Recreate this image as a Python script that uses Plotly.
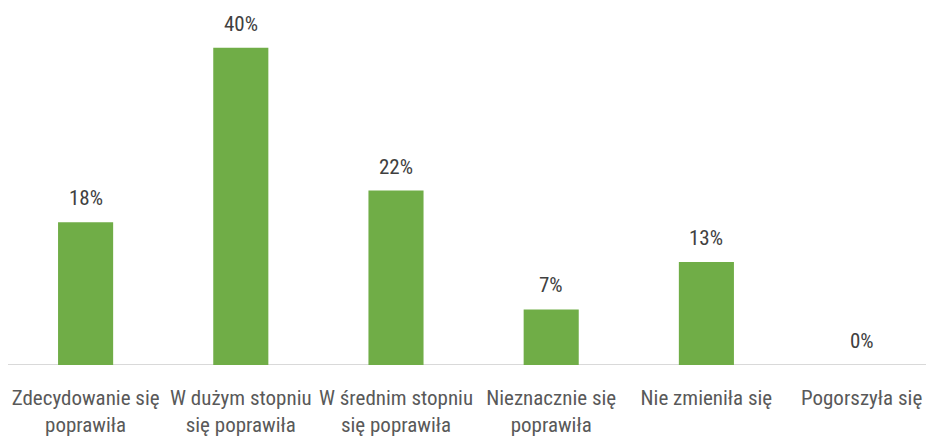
import plotly.graph_objects as go

categories = [
    "Zdecydowanie się<br>poprawiła",
    "W dużym stopniu<br>się poprawiła",
    "W średnim stopniu<br>się poprawiła",
    "Nieznacznie się<br>poprawiła",
    "Nie zmieniła się",
    "Pogorszyła się",
]
values = [18, 40, 22, 7, 13, 0]
labels = [f"{v}%" for v in values]

FONT = "Roboto Condensed, Liberation Sans Narrow, sans-serif"
xpos = list(range(len(categories)))

fig = go.Figure(
    go.Bar(
        x=xpos,
        y=values,
        marker=dict(color="#70AD47", line=dict(width=0)),
        width=0.355,
        hoverinfo="skip",
    )
)

for x, v, t in zip(xpos, values, labels):
    fig.add_annotation(
        x=x, y=v, xref="x", yref="y",
        text=t, showarrow=False,
        yanchor="middle", xanchor="center", yshift=24,
        font=dict(family=FONT, size=21, color="#404040"),
    )

fig.update_layout(
    width=926,
    height=439,
    margin=dict(l=8, r=0, t=16, b=74),
    paper_bgcolor="white",
    plot_bgcolor="white",
    showlegend=False,
    font=dict(family=FONT, color="#595959"),
    xaxis=dict(
        tickmode="array",
        tickvals=xpos,
        ticktext=categories,
        range=[-0.5, 5.415],
        showgrid=False,
        zeroline=False,
        showline=False,
        ticks="",
        automargin=False,
        ticklabelstandoff=18,
        tickfont=dict(family=FONT, size=21, color="#595959"),
    ),
    yaxis=dict(
        range=[0, 44],
        visible=False,
        showgrid=False,
        automargin=False,
    ),
    shapes=[
        dict(
            type="line", xref="paper", yref="y",
            x0=0, x1=1, y0=0, y1=0,
            line=dict(color="#D9D9D9", width=2),
            layer="below",
        )
    ],
)

fig.write_html(
    "out.html",
    config={"displayModeBar": False},
    post_script="document.body.style.margin='0';document.body.style.overflow='hidden';",
)
